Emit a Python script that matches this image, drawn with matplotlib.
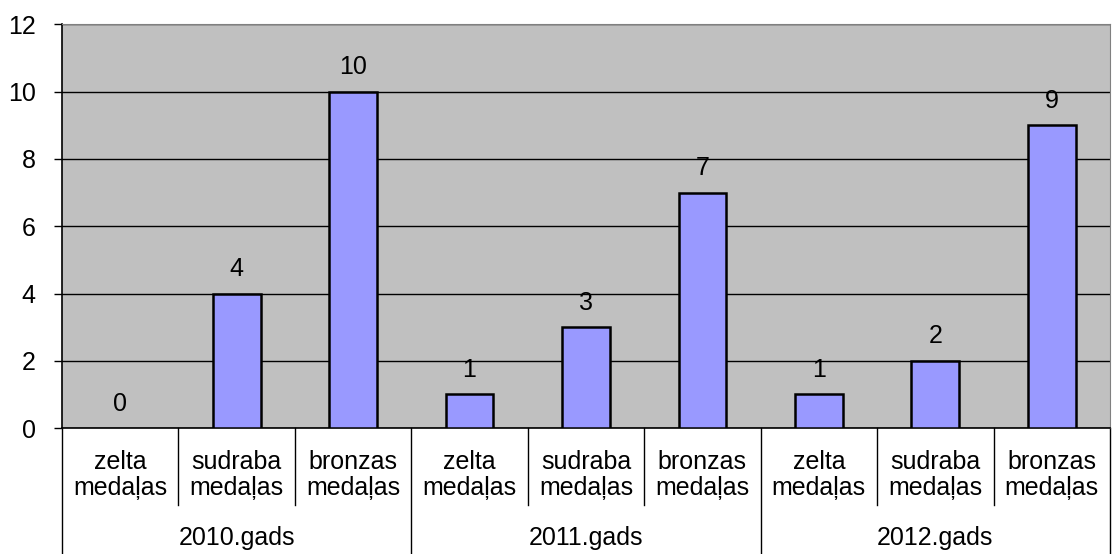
import matplotlib
matplotlib.use('Agg')
import matplotlib.pyplot as plt
import numpy as np

plt.rcParams['font.family'] = ['Liberation Sans', 'DejaVu Sans']

# data
years = ['2010.gads', '2011.gads', '2012.gads']
medals = ['zelta\nmedaļas', 'sudraba\nmedaļas', 'bronzas\nmedaļas']
values = [0, 4, 10, 1, 3, 7, 1, 2, 9]

fs = 18

fig = plt.figure(figsize=(11.13, 5.54), dpi=100)
ax = fig.add_axes([0.0557, 0.2274, 0.9416, 0.7284])
ax.set_facecolor('#C0C0C0')

n = len(values)
x = np.arange(n)
ax.set_axisbelow(True)
ax.yaxis.grid(True, color='black', linewidth=1)
lws = [1.8 if v > 0 else 0 for v in values]
bars = ax.bar(x, values, width=0.41, color='#9999FF', edgecolor='black', linewidth=lws, zorder=3)

for xi, v in zip(x, values):
    ax.annotate(str(v), (xi, v), xytext=(0, 12.5), textcoords='offset points',
                ha='center', va='baseline', fontsize=fs)

ax.set_xlim(-0.5, n - 0.5)
ax.set_ylim(0, 12)
ax.set_yticks(range(0, 13, 2))
ax.tick_params(axis='y', labelsize=fs, length=6, width=1, direction='out', pad=13)
ax.set_xticks([])

ax.spines['top'].set_color('#808080')
ax.spines['right'].set_color('#808080')
ax.spines['left'].set_linewidth(1.2)
ax.spines['bottom'].set_linewidth(1.2)

trans = ax.get_xaxis_transform()
# separators under the axis
for i in range(n + 1):
    xb = i - 0.5
    if i % 3 == 0:
        ax.plot([xb, xb], [0, -0.32], color='black', lw=1, transform=trans, clip_on=False)
    else:
        ax.plot([xb, xb], [0, -0.19], color='black', lw=1, transform=trans, clip_on=False)

for i in range(n):
    ax.text(i, -0.117, medals[i % 3], transform=trans, ha='center', va='center',
            fontsize=fs, linespacing=1.08)
for g, yr in enumerate(years):
    ax.text(g * 3 + 1, -0.273, yr, transform=trans, ha='center', va='center', fontsize=fs)

fig.savefig('out.png', dpi=100)
